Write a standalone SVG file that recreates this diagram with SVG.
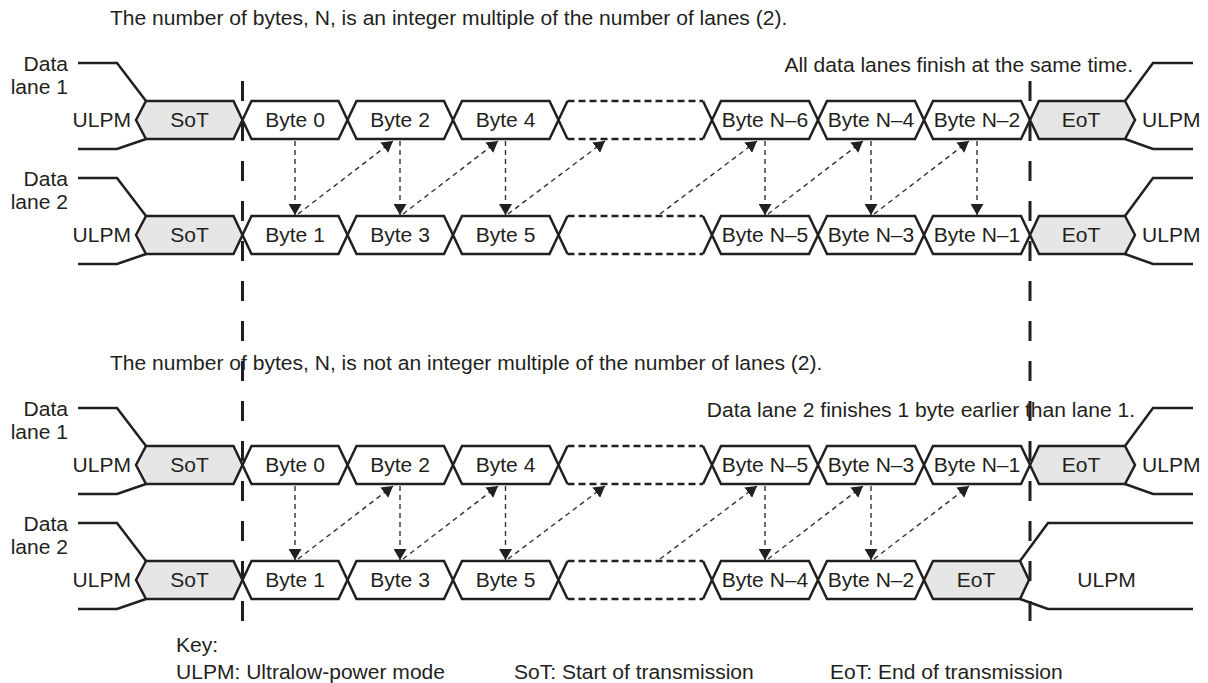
<svg xmlns="http://www.w3.org/2000/svg" width="1208" height="683" viewBox="0 0 1208 683">
<style>
.bus{fill:#fff;stroke:#231f20;stroke-width:2.5;stroke-linejoin:miter}
.ctl{fill:#e6e6e6;stroke:#231f20;stroke-width:2.5;stroke-linejoin:miter}
.ln{fill:none;stroke:#231f20;stroke-width:2.5;stroke-linejoin:miter}
.dsh{fill:none;stroke:#231f20;stroke-width:2.5;stroke-dasharray:7 4}
.vd{fill:none;stroke:#231f20;stroke-width:3;stroke-dasharray:20 20}
.ar{fill:none;stroke:#333;stroke-width:1.4;stroke-dasharray:5 4;marker-end:url(#ah)}
text{font-family:"Liberation Sans",Arial,Helvetica,sans-serif;font-size:19.5px;fill:#231f20}
.m{text-anchor:middle}
.e{text-anchor:end}
</style>
<defs>
<marker id="ah" markerUnits="userSpaceOnUse" viewBox="0 0 11 13" markerWidth="11" markerHeight="13" refX="11" refY="6.5" orient="auto"><path d="M0,0 L11,6.5 L0,13z" fill="#231f20"/></marker>
</defs>

<g id="titles">
<text transform="translate(110,25) scale(1.08,1)">The number of bytes, N, is an integer multiple of the number of lanes (2).</text>
<text class="e" transform="translate(1133,72) scale(1.08,1)">All data lanes finish at the same time.</text>
<text transform="translate(110,370) scale(1.08,1)">The number of bytes, N, is not an integer multiple of the number of lanes (2).</text>
<text class="e" transform="translate(1135,417) scale(1.08,1)">Data lane 2 finishes 1 byte earlier than lane 1.</text>
</g>

<g id="lane-labels">
<text class="e" transform="translate(68,71) scale(1.08,1)">Data</text>
<text class="e" transform="translate(68,94) scale(1.08,1)">lane 1</text>
<text class="e" transform="translate(68,186) scale(1.08,1)">Data</text>
<text class="e" transform="translate(68,209) scale(1.08,1)">lane 2</text>
<text class="e" transform="translate(68,416) scale(1.08,1)">Data</text>
<text class="e" transform="translate(68,439) scale(1.08,1)">lane 1</text>
<text class="e" transform="translate(68,531) scale(1.08,1)">Data</text>
<text class="e" transform="translate(68,554) scale(1.08,1)">lane 2</text>
</g>

<!-- Top section, lane 1 -->
<g id="A-lane1" transform="translate(0,120)">
<g id="A1-ulpm-l"><path class="ln" d="M78,-57 H117 L146,-19 M78,29 H117 L146,19"/><text class="e" transform="translate(131,7) scale(1.08,1)">ULPM</text></g>
<g id="A1-sot"><polygon class="ctl" points="136,0 146,-19 233.5,-19 242.5,0 233.5,19 146,19"/><text class="m" transform="translate(189.5,7) scale(1.08,1)">SoT</text></g>
<g id="A1-b0"><polygon class="bus" points="242.5,0 251.5,-19 338.5,-19 347.5,0 338.5,19 251.5,19"/><text class="m" transform="translate(295,7) scale(1.08,1)">Byte 0</text></g>
<g id="A1-b2"><polygon class="bus" points="347.5,0 356.5,-19 444,-19 453,0 444,19 356.5,19"/><text class="m" transform="translate(400,7) scale(1.08,1)">Byte 2</text></g>
<g id="A1-b4"><polygon class="bus" points="453,0 462,-19 549.5,-19 558.5,0 549.5,19 462,19"/><text class="m" transform="translate(505.5,7) scale(1.08,1)">Byte 4</text></g>
<g id="A1-gap"><path class="ln" d="M558.5,0 L567.5,-19 M558.5,0 L567.5,19 M712,0 L703,-19 M712,0 L703,19"/><path class="dsh" d="M567.5,-19 H703 M567.5,19 H703"/></g>
<g id="A1-n6"><polygon class="bus" points="712,0 721,-19 809,-19 818,0 809,19 721,19"/><text class="m" transform="translate(765,7) scale(1.08,1)">Byte N–6</text></g>
<g id="A1-n4"><polygon class="bus" points="818,0 827,-19 915,-19 924,0 915,19 827,19"/><text class="m" transform="translate(871,7) scale(1.08,1)">Byte N–4</text></g>
<g id="A1-n2"><polygon class="bus" points="924,0 933,-19 1021,-19 1030,0 1021,19 933,19"/><text class="m" transform="translate(977,7) scale(1.08,1)">Byte N–2</text></g>
<g id="A1-eot"><polygon class="ctl" points="1030,0 1039,-19 1125,-19 1135,0 1125,19 1039,19"/><text class="m" transform="translate(1081,7) scale(1.08,1)">EoT</text></g>
<g id="A1-ulpm-r"><path class="ln" d="M1125,-19 L1153,-57 H1193 M1125,19 L1153,29 H1193"/><text transform="translate(1142,7) scale(1.08,1)">ULPM</text></g>
</g>

<!-- Top section, lane 2 -->
<g id="A-lane2" transform="translate(0,235)">
<g id="A2-ulpm-l"><path class="ln" d="M78,-57 H117 L146,-19 M78,29 H117 L146,19"/><text class="e" transform="translate(131,7) scale(1.08,1)">ULPM</text></g>
<g id="A2-sot"><polygon class="ctl" points="136,0 146,-19 233.5,-19 242.5,0 233.5,19 146,19"/><text class="m" transform="translate(189.5,7) scale(1.08,1)">SoT</text></g>
<g id="A2-b1"><polygon class="bus" points="242.5,0 251.5,-19 338.5,-19 347.5,0 338.5,19 251.5,19"/><text class="m" transform="translate(295,7) scale(1.08,1)">Byte 1</text></g>
<g id="A2-b3"><polygon class="bus" points="347.5,0 356.5,-19 444,-19 453,0 444,19 356.5,19"/><text class="m" transform="translate(400,7) scale(1.08,1)">Byte 3</text></g>
<g id="A2-b5"><polygon class="bus" points="453,0 462,-19 549.5,-19 558.5,0 549.5,19 462,19"/><text class="m" transform="translate(505.5,7) scale(1.08,1)">Byte 5</text></g>
<g id="A2-gap"><path class="ln" d="M558.5,0 L567.5,-19 M558.5,0 L567.5,19 M712,0 L703,-19 M712,0 L703,19"/><path class="dsh" d="M567.5,-19 H703 M567.5,19 H703"/></g>
<g id="A2-n5"><polygon class="bus" points="712,0 721,-19 809,-19 818,0 809,19 721,19"/><text class="m" transform="translate(765,7) scale(1.08,1)">Byte N–5</text></g>
<g id="A2-n3"><polygon class="bus" points="818,0 827,-19 915,-19 924,0 915,19 827,19"/><text class="m" transform="translate(871,7) scale(1.08,1)">Byte N–3</text></g>
<g id="A2-n1"><polygon class="bus" points="924,0 933,-19 1021,-19 1030,0 1021,19 933,19"/><text class="m" transform="translate(977,7) scale(1.08,1)">Byte N–1</text></g>
<g id="A2-eot"><polygon class="ctl" points="1030,0 1039,-19 1125,-19 1135,0 1125,19 1039,19"/><text class="m" transform="translate(1081,7) scale(1.08,1)">EoT</text></g>
<g id="A2-ulpm-r"><path class="ln" d="M1125,-19 L1153,-57 H1193 M1125,19 L1153,29 H1193"/><text transform="translate(1142,7) scale(1.08,1)">ULPM</text></g>
</g>

<!-- Bottom section, lane 1 -->
<g id="B-lane1" transform="translate(0,465)">
<g id="B1-ulpm-l"><path class="ln" d="M78,-57 H117 L146,-19 M78,29 H117 L146,19"/><text class="e" transform="translate(131,7) scale(1.08,1)">ULPM</text></g>
<g id="B1-sot"><polygon class="ctl" points="136,0 146,-19 233.5,-19 242.5,0 233.5,19 146,19"/><text class="m" transform="translate(189.5,7) scale(1.08,1)">SoT</text></g>
<g id="B1-b0"><polygon class="bus" points="242.5,0 251.5,-19 338.5,-19 347.5,0 338.5,19 251.5,19"/><text class="m" transform="translate(295,7) scale(1.08,1)">Byte 0</text></g>
<g id="B1-b2"><polygon class="bus" points="347.5,0 356.5,-19 444,-19 453,0 444,19 356.5,19"/><text class="m" transform="translate(400,7) scale(1.08,1)">Byte 2</text></g>
<g id="B1-b4"><polygon class="bus" points="453,0 462,-19 549.5,-19 558.5,0 549.5,19 462,19"/><text class="m" transform="translate(505.5,7) scale(1.08,1)">Byte 4</text></g>
<g id="B1-gap"><path class="ln" d="M558.5,0 L567.5,-19 M558.5,0 L567.5,19 M712,0 L703,-19 M712,0 L703,19"/><path class="dsh" d="M567.5,-19 H703 M567.5,19 H703"/></g>
<g id="B1-n5"><polygon class="bus" points="712,0 721,-19 809,-19 818,0 809,19 721,19"/><text class="m" transform="translate(765,7) scale(1.08,1)">Byte N–5</text></g>
<g id="B1-n3"><polygon class="bus" points="818,0 827,-19 915,-19 924,0 915,19 827,19"/><text class="m" transform="translate(871,7) scale(1.08,1)">Byte N–3</text></g>
<g id="B1-n1"><polygon class="bus" points="924,0 933,-19 1021,-19 1030,0 1021,19 933,19"/><text class="m" transform="translate(977,7) scale(1.08,1)">Byte N–1</text></g>
<g id="B1-eot"><polygon class="ctl" points="1030,0 1039,-19 1125,-19 1135,0 1125,19 1039,19"/><text class="m" transform="translate(1081,7) scale(1.08,1)">EoT</text></g>
<g id="B1-ulpm-r"><path class="ln" d="M1125,-19 L1153,-57 H1193 M1125,19 L1153,29 H1193"/><text transform="translate(1142,7) scale(1.08,1)">ULPM</text></g>
</g>

<!-- Bottom section, lane 2 -->
<g id="B-lane2" transform="translate(0,580)">
<g id="B2-ulpm-l"><path class="ln" d="M78,-57 H117 L146,-19 M78,29 H117 L146,19"/><text class="e" transform="translate(131,7) scale(1.08,1)">ULPM</text></g>
<g id="B2-sot"><polygon class="ctl" points="136,0 146,-19 233.5,-19 242.5,0 233.5,19 146,19"/><text class="m" transform="translate(189.5,7) scale(1.08,1)">SoT</text></g>
<g id="B2-b1"><polygon class="bus" points="242.5,0 251.5,-19 338.5,-19 347.5,0 338.5,19 251.5,19"/><text class="m" transform="translate(295,7) scale(1.08,1)">Byte 1</text></g>
<g id="B2-b3"><polygon class="bus" points="347.5,0 356.5,-19 444,-19 453,0 444,19 356.5,19"/><text class="m" transform="translate(400,7) scale(1.08,1)">Byte 3</text></g>
<g id="B2-b5"><polygon class="bus" points="453,0 462,-19 549.5,-19 558.5,0 549.5,19 462,19"/><text class="m" transform="translate(505.5,7) scale(1.08,1)">Byte 5</text></g>
<g id="B2-gap"><path class="ln" d="M558.5,0 L567.5,-19 M558.5,0 L567.5,19 M712,0 L703,-19 M712,0 L703,19"/><path class="dsh" d="M567.5,-19 H703 M567.5,19 H703"/></g>
<g id="B2-n4"><polygon class="bus" points="712,0 721,-19 809,-19 818,0 809,19 721,19"/><text class="m" transform="translate(765,7) scale(1.08,1)">Byte N–4</text></g>
<g id="B2-n2"><polygon class="bus" points="818,0 827,-19 915,-19 924,0 915,19 827,19"/><text class="m" transform="translate(871,7) scale(1.08,1)">Byte N–2</text></g>
<g id="B2-eot"><polygon class="ctl" points="924,0 933,-19 1020,-19 1029,0 1020,19 933,19"/><text class="m" transform="translate(976,7) scale(1.08,1)">EoT</text></g>
<g id="B2-ulpm-r"><path class="ln" d="M1020,-19 L1048,-57 H1193 M1020,19 L1048,29 H1193"/><text class="m" transform="translate(1106.5,7) scale(1.08,1)">ULPM</text></g>
</g>

<g id="markers-vertical">
<path class="vd" d="M242.5,81 V621"/>
<path class="vd" d="M1030,81 V621"/>
</g>

<g id="connectors">
<path class="ar" d="M295,141 V215"/>
<path class="ar" d="M400,141 V215"/>
<path class="ar" d="M505.5,141 V215"/>
<path class="ar" d="M765,141 V215"/>
<path class="ar" d="M871,141 V215"/>
<path class="ar" d="M977,141 V215"/>
<path class="ar" d="M298,214 L393,141"/>
<path class="ar" d="M403,214 L498,141"/>
<path class="ar" d="M508,214 L605,141"/>
<path class="ar" d="M660,214 L757,141"/>
<path class="ar" d="M768,214 L863,141"/>
<path class="ar" d="M874,214 L969,141"/>
<path class="ar" d="M295,486 V560"/>
<path class="ar" d="M400,486 V560"/>
<path class="ar" d="M505.5,486 V560"/>
<path class="ar" d="M765,486 V560"/>
<path class="ar" d="M871,486 V560"/>
<path class="ar" d="M298,559 L393,486"/>
<path class="ar" d="M403,559 L498,486"/>
<path class="ar" d="M508,559 L605,486"/>
<path class="ar" d="M660,559 L757,486"/>
<path class="ar" d="M768,559 L863,486"/>
<path class="ar" d="M874,559 L969,486"/>
</g>

<g id="key">
<text transform="translate(176,652) scale(1.08,1)">Key:</text>
<text transform="translate(176,679) scale(1.08,1)">ULPM: Ultralow-power mode</text>
<text transform="translate(514,679) scale(1.08,1)">SoT: Start of transmission</text>
<text transform="translate(830,679) scale(1.08,1)">EoT: End of transmission</text>
</g>
</svg>
